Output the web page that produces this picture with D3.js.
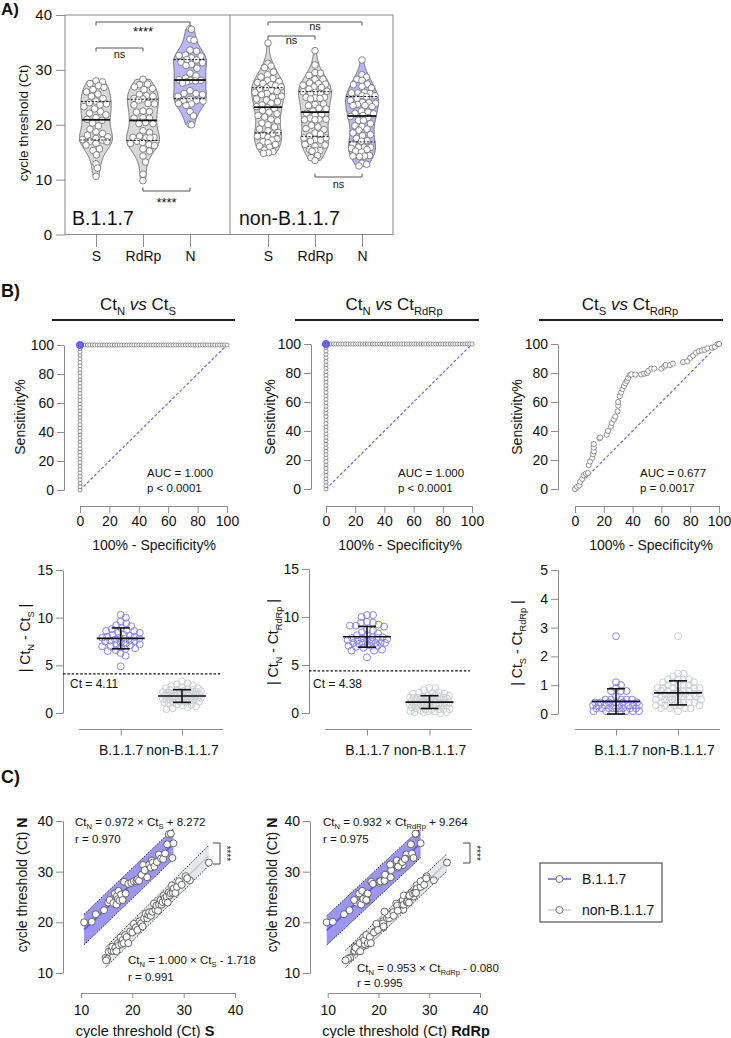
<!DOCTYPE html>
<html><head><meta charset="utf-8">
<script src="https://cdn.jsdelivr.net/npm/d3@7"></script>
<style>
body{margin:0;background:#fff}
svg{display:block}
text{font-family:"Liberation Sans",Arial,Helvetica,sans-serif;fill:#111}
</style></head>
<body><svg id="c" width="731" height="1038"></svg>
<script>
// ---------------- DATA ----------------
const groups = ["B.1.1.7", "non-B.1.1.7"];
const genes = ["S", "RdRp", "N"];
// per-sample Ct values, B.1.1.7
const b117_S = [10.6,12.1,12.9,14.5,15.3,15.6,16.3,16.6,16.9,17.0,17.2,17.3,17.5,17.8,18.1,18.4,18.7,19.2,19.8,20.3,20.8,21.0,21.3,21.8,22.1,22.4,22.9,23.3,23.6,23.8,24.0,24.3,24.8,25.2,25.6,26.0,26.4,26.8,27.1,27.5,27.8,28.0];
const b117_RdRp = [9.8,11.0,13.2,14.3,15.6,15.2,16.4,16.2,16.6,17.6,17.0,16.8,17.7,17.7,17.6,18.6,17.9,18.9,20.2,20.2,20.4,21.2,21.2,21.3,24.8,22.5,22.4,22.3,23.8,23.6,24.5,23.9,24.7,25.5,25.3,25.2,26.6,26.4,27.4,27.3,26.9,28.3];
const b117_N = [20.0,20.1,21.6,22.4,23.9,24.4,23.8,25.7,23.5,25.2,24.6,26.2,24.3,25.5,24.4,28.0,25.7,27.6,27.8,28.1,28.1,28.5,28.2,29.4,31.3,30.3,28.9,31.4,30.8,32.2,31.8,31.0,31.9,33.4,32.6,32.5,33.6,35.4,37.4,37.5,32.7,35.6];
// per-sample Ct values, non-B.1.1.7
const non_S = [14.8,15.1,15.4,14.9,15.9,16.1,16.4,16.7,16.9,17.2,17.4,17.7,17.9,18.1,18.3,18.6,18.9,19.2,19.6,20.0,20.3,20.7,21.0,21.4,21.7,22.0,22.3,22.6,22.9,23.1,23.3,23.6,23.9,24.2,24.5,24.7,25.0,25.2,25.5,25.7,25.9,26.1,26.3,26.5,26.7,26.9,27.1,27.3,27.5,27.7,27.9,28.1,28.4,28.7,29.1,29.6,30.4,31.2,30.7,34.9];
const non_RdRp = [14.4,14.0,15.2,13.5,15.3,15.3,16.1,15.5,16.4,16.3,17.6,17.0,17.3,17.2,17.9,17.6,18.3,18.5,19.3,19.1,19.6,21.0,19.9,20.9,20.9,21.0,21.7,22.5,22.1,21.9,22.9,23.0,21.2,23.5,24.9,23.7,23.8,24.7,24.8,25.0,25.6,25.0,25.9,25.7,26.9,26.0,26.5,26.1,26.8,27.5,27.2,27.6,27.4,28.3,28.3,29.0,29.5,30.9,29.4,33.5];
const non_N = [13.0,12.8,14.2,12.5,14.4,15.2,14.3,15.0,14.3,15.9,15.5,17.0,15.7,16.5,15.9,17.5,17.1,15.9,18.2,18.0,19.7,19.0,18.5,20.2,19.8,19.2,20.8,21.7,20.8,21.5,22.0,21.3,22.1,23.7,22.5,23.3,22.3,23.5,24.4,23.5,24.0,25.3,24.8,24.1,25.1,23.9,25.9,25.3,25.7,27.3,25.8,26.7,25.8,27.0,28.1,27.4,29.1,28.3,28.7,31.8];
// significance labels panel A: [S-RdRp, S-N, RdRp-N]
const sigB117 = ["ns", "****", "****"];
const sigNon = ["ns", "ns", "ns"];
// ROC Ct_S vs Ct_RdRp (100% - specificity, sensitivity)
const rocS_RdRp = [[0,0],[1.5,1.5],[3,2.5],[3.5,5],[5,7],[6,9.5],[7.5,10.5],[9,11],[9.5,16.5],[10.5,19],[12,21.5],[12.5,24],[13,26],[13,28.5],[13,31],[17,35],[17.5,35.5],[22,37.5],[23,40],[25,43],[25.5,45.5],[27,48],[28,50],[29.5,53.5],[30,57.5],[30,60],[31,64],[32,66.5],[33,69],[34,71],[35,73],[36,74.5],[37,76.5],[38,78.5],[39,79],[42,79],[46,79],[48,79.5],[50,80],[51,81.5],[53,83],[55,83],[60,83],[62,84.5],[63,85.5],[66,85.5],[68,86.5],[75,87.5],[78,88],[80,90.5],[82,92],[84,94],[86,95],[88,95.5],[90,96],[92,97],[95,97.5],[97,98],[99,100],[100,100]];
const aucLabels = ["AUC = 1.000", "AUC = 1.000", "AUC = 0.677"];
const pLabels = ["p < 0.0001", "p < 0.0001", "p = 0.0017"];
const cutoffs = [4.11, 4.38];
// regressions: [slope, intercept, r]
const fitB117_NvsS = [0.972, 8.272, 0.970];
const fitNon_NvsS = [1.000, -1.718, 0.991];
const fitB117_NvsRdRp = [0.932, 9.264, 0.975];
const fitNon_NvsRdRp = [0.953, -0.080, 0.995];
// prediction band half widths (Ct)
const bandB117 = [3.0, 2.9];
const bandNon = [2.0, 1.7];

// ---------------- HELPERS ----------------
const svg = d3.select("#c");
const C_AX = "#8a8a8a", C_LAV = "#b9b6f4", C_GRAY = "#d8d8d8", C_BLUE = "#6b66ee", C_PB = "#8783f0", C_PN = "#c9cece";

function txt(g, x, y, s, o = {}) {
  const fs = o.size || 14;
  const t = g.append("text").attr("x", x).attr("y", y).attr("font-size", fs)
    .attr("text-anchor", o.anchor || "start");
  if (o.weight) t.attr("font-weight", o.weight);
  if (o.fill) t.style("fill", o.fill);
  if (o.rotate) t.attr("transform", `rotate(${o.rotate},${x},${y})`);
  const parts = typeof s === "string" ? [[s, ""]] : s;
  let sub = false;
  parts.forEach(([str, kind]) => {
    const sp = t.append("tspan").text(str);
    if (kind === "sub") { sp.attr("font-size", fs * 0.66).attr("dy", sub ? 0 : fs * 0.3); sub = true; }
    else { if (sub) { sp.attr("dy", -fs * 0.3); sub = false; } }
    if (kind === "it") sp.attr("font-style", "italic");
    if (kind === "bold") sp.attr("font-weight", "bold");
  });
  return t;
}
function line(g, x1, y1, x2, y2, c = C_AX, w = 1, dash = null) {
  const l = g.append("line").attr("x1", x1).attr("y1", y1).attr("x2", x2).attr("y2", y2)
    .attr("stroke", c).attr("stroke-width", w);
  if (dash) l.attr("stroke-dasharray", dash);
  return l;
}
function styleAxis(sel, fs = 14) {
  sel.selectAll(".tick line").attr("stroke", C_AX);
  sel.selectAll(".domain").attr("stroke", C_AX);
  sel.selectAll("text").attr("font-size", fs).style("fill", "#111")
    .attr("font-family", '"Liberation Sans",Arial,sans-serif');
}
// beeswarm with a (value dependent) maximum half width; overlap allowed when crowded
function swarm(vals, yS, cx, minDist, maxHalf) {
  const pts = vals.map((v, i) => ({ v, y: yS(v), i })).sort((a, b) => a.y - b.y || a.i - b.i);
  const placed = [];
  for (const p of pts) {
    const lim = Math.max(0, maxHalf(p.v));
    let md = minDist, done = false;
    while (!done) {
      for (let k = 0; k < 800; k++) {
        const off = (k % 2 ? 1 : -1) * Math.ceil(k / 2) * 0.5;
        if (Math.abs(off) > lim) break;
        const x = cx + off;
        let ok = true;
        for (const q of placed) {
          const dy = q.y - p.y;
          if (Math.abs(dy) < md && (q.x - x) ** 2 + dy * dy < md * md) { ok = false; break; }
        }
        if (ok) { p.x = x; done = true; break; }
      }
      md *= 0.85;
      if (md < 0.3 && !done) { p.x = cx; done = true; }
    }
    placed.push(p);
  }
  return placed;
}

// ---------------- PANEL LABELS ----------------
txt(svg, 1, 15, "A)", { size: 17, weight: "bold" });
txt(svg, 1, 297, "B)", { size: 18, weight: "bold" });
txt(svg, 1, 783, "C)", { size: 18, weight: "bold" });

// ---------------- PANEL A ----------------
(function () {
  const g = svg.append("g");
  const y = d3.scaleLinear().domain([0, 40]).range([234.5, 15]);
  const xs = [d3.scalePoint().domain(genes).range([96, 190]), d3.scalePoint().domain(genes).range([268, 362])];
  const data = [[b117_S, b117_RdRp, b117_N], [non_S, non_RdRp, non_N]];
  g.append("rect").attr("x", 65).attr("y", 15).attr("width", 328).attr("height", 219.5)
    .attr("fill", "none").attr("stroke", C_AX);
  line(g, 230, 15, 230, 234.5);
  const ay = g.append("g").attr("transform", "translate(65,0)")
    .call(d3.axisLeft(y).tickValues([0, 10, 20, 30, 40]).tickSize(9).tickPadding(4));
  ay.select(".domain").remove(); styleAxis(ay, 15);
  xs.forEach(x => {
    const ax = g.append("g").attr("transform", "translate(0,235)")
      .call(d3.axisBottom(x).tickSize(12).tickPadding(4));
    ax.select(".domain").remove(); styleAxis(ax, 14);
  });
  txt(g, 28, 123, "cycle threshold (Ct)", { size: 13.5, anchor: "middle", rotate: -90 });
  txt(g, 72, 225, groups[0], { size: 19.5 });
  txt(g, 239, 225, groups[1], { size: 19.5 });

  const maxW = 16.5;
  data.forEach((set, gi) => {
    set.forEach((vals, j) => {
      const cx = xs[gi](genes[j]);
      const sorted = vals.slice().sort(d3.ascending);
      const n = vals.length, sd = d3.deviation(vals);
      const iqr = d3.quantile(sorted, 0.75) - d3.quantile(sorted, 0.25);
      const h = 0.85 * 0.9 * Math.min(sd, iqr / 1.34) * Math.pow(n, -0.2);
      const dens = v => d3.mean(vals, u => Math.exp(-0.5 * ((v - u) / h) ** 2));
      const lo = sorted[0], hi = sorted[n - 1];
      const grid = d3.range(lo, hi, 0.1).concat([hi]);
      const dv = grid.map(dens), mx = d3.max(dv);
      const wAt = v => dens(v) / mx * maxW;
      const pts = [[lo, 0]].concat(grid.map((v, i) => [v, dv[i] / mx * maxW])).concat([[hi, 0]]);
      const area = d3.area().y(d => y(d[0])).x0(d => cx - d[1]).x1(d => cx + d[1]).curve(d3.curveBasis);
      g.append("path").attr("d", area(pts)).attr("fill", genes[j] === "N" ? C_LAV : C_GRAY)
        .attr("stroke", "#555").attr("stroke-width", 0.8);
      const sw = swarm(vals, y, cx, 6.4, v => wAt(v) - 2.5);
      g.selectAll(null).data(sw).enter().append("circle")
        .attr("cx", d => d.x).attr("cy", d => d.y).attr("r", 3.3)
        .attr("fill", "#fff").attr("stroke", "#6a6a6a").attr("stroke-width", 0.8);
      [0.25, 0.5, 0.75].forEach(q => {
        const v = d3.quantile(sorted, q), w = wAt(v);
        line(g, cx - w, y(v), cx + w, y(v), "#111", q === 0.5 ? 1.8 : 1.0, q === 0.5 ? null : "2,1.6");
      });
    });
  });
  function bracket(x1, x2, yy, dir, label, ty, fs) {
    g.append("path").attr("d", `M${x1},${yy + 3.5 * dir}V${yy}H${x2}V${yy + 3.5 * dir}`)
      .attr("fill", "none").attr("stroke", "#555").attr("stroke-width", 1);
    txt(g, (x1 + x2) / 2, ty, label, { size: fs, anchor: "middle" });
  }
  const x0 = xs[0], x1 = xs[1];
  bracket(x0("S"), x0("RdRp"), 48, 1, sigB117[0], 58, 11);
  bracket(x0("S"), x0("N"), 22, 1, sigB117[1], 36, 13);
  bracket(x0("RdRp"), x0("N"), 191, -1, sigB117[2], 207, 13);
  bracket(x1("S"), x1("RdRp"), 36, 1, sigNon[0], 44, 11);
  bracket(x1("S"), x1("N"), 22, 1, sigNon[1], 30, 11);
  bracket(x1("RdRp"), x1("N"), 177, -1, sigNon[2], 188, 11);
})();

// ---------------- PANEL B: ROC ----------------
const dNS_b = b117_N.map((v, i) => Math.abs(v - b117_S[i]));
const dNS_n = non_N.map((v, i) => Math.abs(v - non_S[i]));
const dNR_b = b117_N.map((v, i) => Math.abs(v - b117_RdRp[i]));
const dNR_n = non_N.map((v, i) => Math.abs(v - non_RdRp[i]));
const dSR_b = b117_S.map((v, i) => Math.abs(v - b117_RdRp[i]));
const dSR_n = non_S.map((v, i) => Math.abs(v - non_RdRp[i]));

function rocCurve(pos, neg) {
  const all = pos.map(v => ({ v, p: 1 })).concat(neg.map(v => ({ v, p: 0 })))
    .sort((a, b) => b.v - a.v || b.p - a.p);
  let tp = 0, fp = 0;
  const out = [[0, 0]];
  all.forEach(d => { if (d.p) tp++; else fp++; out.push([100 * fp / neg.length, 100 * tp / pos.length]); });
  return out;
}
const rocs = [rocCurve(dNS_b, dNS_n), rocCurve(dNR_b, dNR_n), rocS_RdRp];
const titles = [
  [["Ct", ""], ["N", "sub"], [" vs ", "it"], ["Ct", ""], ["S", "sub"]],
  [["Ct", ""], ["N", "sub"], [" vs ", "it"], ["Ct", ""], ["RdRp", "sub"]],
  [["Ct", ""], ["S", "sub"], [" vs ", "it"], ["Ct", ""], ["RdRp", "sub"]]
];
const rocL = [
  { x0: 80, x1: 227, yT: 345, yB: 490, ax: 64, titleX: 138, l0: 52, l1: 235, aucX: 147, xtX: 154, ytX: 25, r: 2.0, hi: true },
  { x0: 326, x1: 472, yT: 344, yB: 489, ax: 311, titleX: 394, l0: 295, l1: 479, aucX: 398, xtX: 400, ytX: 275, r: 2.0, hi: true },
  { x0: 575, x1: 719, yT: 344, yB: 489, ax: 558, titleX: 630, l0: 539, l1: 723, aucX: 640, xtX: 651, ytX: 522, r: 2.6, hi: false }
];
rocL.forEach((L, k) => {
  const g = svg.append("g");
  const x = d3.scaleLinear().domain([0, 100]).range([L.x0, L.x1]);
  const y = d3.scaleLinear().domain([0, 100]).range([L.yB, L.yT]);
  txt(g, L.titleX, 310, titles[k], { size: 17, anchor: "middle" });
  line(g, L.l0, 320, L.l1, 320, "#222", 2.2);
  const ay = g.append("g").attr("transform", `translate(${L.ax},0)`)
    .call(d3.axisLeft(y).tickValues([0, 20, 40, 60, 80, 100]).tickSize(7).tickPadding(3).tickSizeOuter(0));
  styleAxis(ay, 14);
  const axx = g.append("g").attr("transform", "translate(0,506)")
    .call(d3.axisBottom(x).tickValues([0, 20, 40, 60, 80, 100]).tickSize(7).tickPadding(3).tickSizeOuter(0));
  styleAxis(axx, 14);
  txt(g, L.xtX, 550, "100% - Specificity%", { size: 14, anchor: "middle" });
  txt(g, L.ytX, 417, "Sensitivity%", { size: 14, anchor: "middle", rotate: -90 });
  line(g, x(0), y(0), x(100), y(100), C_BLUE, 1.2, "3,2");
  g.selectAll(null).data(rocs[k]).enter().append("circle")
    .attr("cx", d => x(d[0])).attr("cy", d => y(d[1])).attr("r", L.r)
    .attr("fill", "#fff").attr("stroke", "#777").attr("stroke-width", 0.8);
  if (L.hi) g.append("circle").attr("cx", x(0)).attr("cy", y(100)).attr("r", 3.6)
    .attr("fill", C_BLUE).attr("stroke", "#4d48d8").attr("stroke-width", 0.8);
  txt(g, L.aucX, 477, aucLabels[k], { size: 11.5 });
  txt(g, L.aucX, 492, pLabels[k], { size: 11.5 });
});

// ---------------- PANEL B: differences ----------------
const diffSets = [[dNS_b, dNS_n], [dNR_b, dNR_n], [dSR_b, dSR_n]];
const yTitles = [
  [["| Ct", ""], ["N", "sub"], [" - Ct", ""], ["S", "sub"], [" |", ""]],
  [["| Ct", ""], ["N", "sub"], [" - Ct", ""], ["RdRp", "sub"], [" |", ""]],
  [["| Ct", ""], ["S", "sub"], [" - Ct", ""], ["RdRp", "sub"], [" |", ""]]
];
const dL = [
  { ax: 63, yT: 570, yB: 713, max: 15, ticks: [0, 5, 10, 15], xr: [120.7, 182], l0: 79, l1: 223, cutX1: 222, cutTX: 70, ytX: 30, ytY: 638, md: 5.6, half: 19 },
  { ax: 309, yT: 569, yB: 713, max: 15, ticks: [0, 5, 10, 15], xr: [367, 429.5], l0: 325, l1: 472, cutX1: 470, cutTX: 313, ytX: 278, ytY: 642, md: 5.6, half: 20 },
  { ax: 558, yT: 570, yB: 714, max: 5, ticks: [0, 1, 2, 3, 4, 5], xr: [616, 678], l0: 575, l1: 720, ytX: 522, ytY: 643, md: 5.4, half: 23 }
];
dL.forEach((L, k) => {
  const g = svg.append("g");
  const y = d3.scaleLinear().domain([0, L.max]).range([L.yB, L.yT]);
  const x = d3.scalePoint().domain(groups).range(L.xr);
  const ay = g.append("g").attr("transform", `translate(${L.ax},0)`)
    .call(d3.axisLeft(y).tickValues(L.ticks).tickFormat(d3.format("d")).tickSize(7).tickPadding(3).tickSizeOuter(0));
  styleAxis(ay, 14);
  line(g, L.l0, 729.5, L.l1, 729.5);
  const axx = g.append("g").attr("transform", "translate(0,729.5)")
    .call(d3.axisBottom(x).tickSize(6).tickPadding(10));
  axx.select(".domain").remove(); styleAxis(axx, 14);
  txt(g, L.ytX, L.ytY, yTitles[k], { size: 14, anchor: "middle", rotate: -90 });
  if (k < 2) {
    line(g, L.ax, y(cutoffs[k]), L.cutX1, y(cutoffs[k]), "#111", 1.3, "2.5,1.8");
    txt(g, L.cutTX, 688, "Ct = " + cutoffs[k].toFixed(2), { size: 12 });
  }
  diffSets[k].forEach((vals, gi) => {
    const cx = x(groups[gi]);
    const sw = swarm(vals, y, cx, L.md, () => L.half);
    g.selectAll(null).data(sw).enter().append("circle")
      .attr("cx", d => d.x).attr("cy", d => d.y).attr("r", 3.5)
      .attr("fill", "none").attr("stroke", gi === 0 ? C_PB : C_PN).attr("stroke-width", 1);
    const m = d3.mean(vals), s = d3.deviation(vals);
    line(g, cx - 24, y(m), cx + 24, y(m), "#111", 1.6);
    line(g, cx - 9, y(m + s), cx + 9, y(m + s), "#111", 1.6);
    line(g, cx - 9, y(m - s), cx + 9, y(m - s), "#111", 1.6);
    line(g, cx, y(m + s), cx, y(m - s), "#111", 1.6);
  });
});

// ---------------- PANEL C ----------------
const scL = [
  { xr: [81, 235], ax: 63, xsB: b117_S, xsN: non_S, fitB: fitB117_NvsS, fitN: fitNon_NvsS, band: 0, gene: "S",
    eq1: [75, 825.5, 843], eq2: [128, 964, 980.5], ytX: 27, xtX: 145, br: [213, 220, 843, 864] },
  { xr: [327.7, 480], ax: 310, xsB: b117_RdRp, xsN: non_RdRp, fitB: fitB117_NvsRdRp, fitN: fitNon_NvsRdRp, band: 1, gene: "RdRp",
    eq1: [323, 826, 843], eq2: [357, 971.5, 986.5], ytX: 277, xtX: 406, br: [463, 470, 843, 863] }
];
function eqParts(f, gene) {
  const b = f[1] < 0 ? " - " + Math.abs(f[1]).toFixed(3) : " + " + f[1].toFixed(3);
  return [["Ct", ""], ["N", "sub"], [" = " + f[0].toFixed(3) + " \u00d7 Ct", ""], [gene, "sub"], [b, ""]];
}
scL.forEach((L, k) => {
  const g = svg.append("g");
  const x = d3.scaleLinear().domain([10, 40]).range(L.xr);
  const y = d3.scaleLinear().domain([10, 40]).range([973, 821]);
  const ay = g.append("g").attr("transform", `translate(${L.ax},0)`)
    .call(d3.axisLeft(y).tickValues([10, 20, 30, 40]).tickSize(7).tickPadding(3).tickSizeOuter(0));
  styleAxis(ay, 14);
  const axx = g.append("g").attr("transform", "translate(0,993)")
    .call(d3.axisBottom(x).tickValues([10, 20, 30, 40]).tickSize(5).tickPadding(7).tickSizeOuter(0));
  styleAxis(axx, 14);
  txt(g, L.ytX, 885, [["cycle threshold (Ct) ", ""], ["N", "bold"]], { size: 14, anchor: "middle", rotate: -90 });
  txt(g, L.xtX, 1036, [["cycle threshold (Ct) ", ""], [L.gene, "bold"]], { size: 14.5, anchor: "middle" });
  const sets = [
    { xs: L.xsB, ys: b117_N, f: L.fitB, hw: bandB117[L.band], fill: "#9a96f1", lc: "#5a54ec" },
    { xs: L.xsN, ys: non_N, f: L.fitN, hw: bandNon[L.band], fill: "#e4e8e8", lc: "#c3c9c9" }
  ];
  sets.forEach(s => {
    const [lo, hi] = d3.extent(s.xs);
    const fy = v => s.f[0] * v + s.f[1];
    g.append("path").attr("d", `M${x(lo)},${y(fy(lo) + s.hw)}L${x(hi)},${y(fy(hi) + s.hw)}L${x(hi)},${y(fy(hi) - s.hw)}L${x(lo)},${y(fy(lo) - s.hw)}Z`)
      .attr("fill", s.fill);
    line(g, x(lo), y(fy(lo) + s.hw), x(hi), y(fy(hi) + s.hw), "#222", 1, "1.3,1.3");
    line(g, x(lo), y(fy(lo) - s.hw), x(hi), y(fy(hi) - s.hw), "#222", 1, "1.3,1.3");
    line(g, x(lo), y(fy(lo)), x(hi), y(fy(hi)), s.lc, 1.6);
  });
  sets.forEach(s => {
    g.selectAll(null).data(s.xs.map((v, i) => [v, s.ys[i]])).enter().append("circle")
      .attr("cx", d => x(d[0])).attr("cy", d => y(d[1])).attr("r", 3.5)
      .attr("fill", "#fff").attr("stroke", "#555").attr("stroke-width", 0.9);
  });
  txt(g, L.eq1[0], L.eq1[1], eqParts(L.fitB, L.gene), { size: 11.5 });
  txt(g, L.eq1[0], L.eq1[2], "r = " + L.fitB[2].toFixed(3), { size: 11.5 });
  txt(g, L.eq2[0], L.eq2[1], eqParts(L.fitN, L.gene), { size: 11.5 });
  txt(g, L.eq2[0], L.eq2[2], "r = " + L.fitN[2].toFixed(3), { size: 11.5 });
  const [bx0, bx1, by0, by1] = L.br;
  g.append("path").attr("d", `M${bx0},${by0}H${bx1}V${by1}H${bx0}`).attr("fill", "none").attr("stroke", "#444").attr("stroke-width", 1);
  txt(g, bx1 + 3, (by0 + by1) / 2, "****", { size: 10, anchor: "middle", rotate: 90, fill: "#222" });
});

// legend
(function () {
  const g = svg.append("g");
  g.append("rect").attr("x", 540).attr("y", 863).attr("width", 122).attr("height", 59)
    .attr("fill", "#fff").attr("stroke", "#333").attr("stroke-width", 1);
  [[groups[0], C_BLUE, 879], [groups[1], "#c8cdcd", 910]].forEach(([lab, c, yy]) => {
    line(g, 548, yy, 571, yy, c, 1.6);
    g.append("circle").attr("cx", 559.5).attr("cy", yy).attr("r", 3.5).attr("fill", "#fff").attr("stroke", "#666").attr("stroke-width", 0.9);
    txt(g, 582, yy + 5, lab, { size: 14 });
  });
})();
</script>
</body></html>
